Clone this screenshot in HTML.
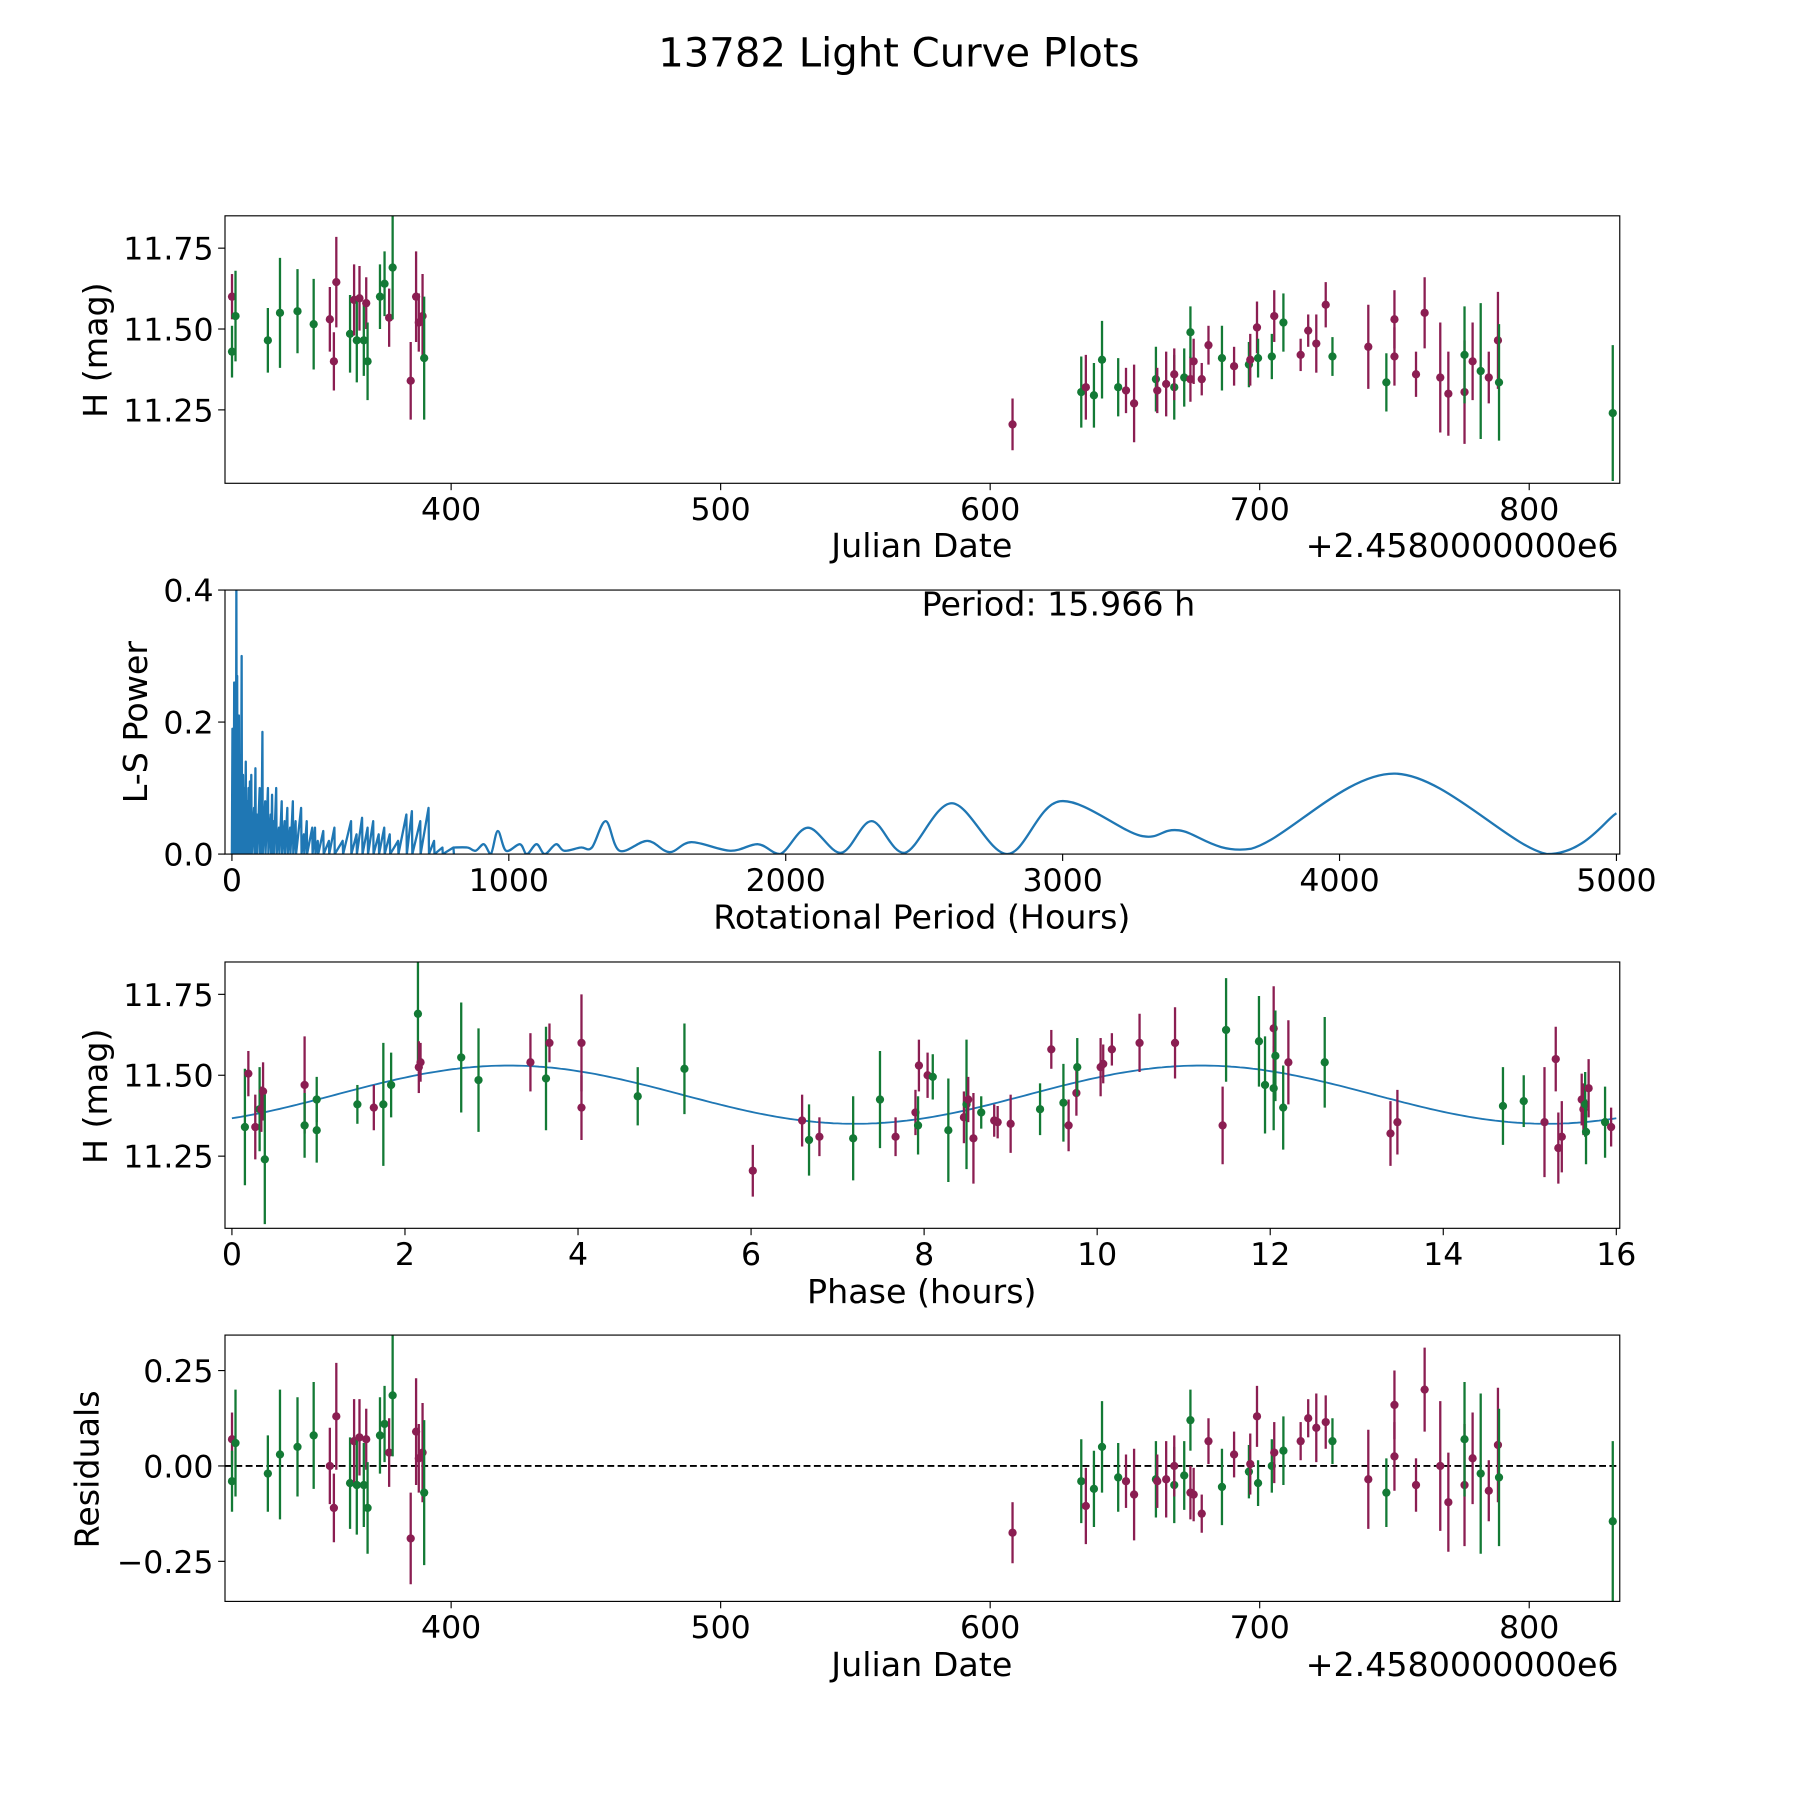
<!DOCTYPE html>
<html><head><meta charset="utf-8"><style>
html,body{margin:0;padding:0;background:#fff;}
svg{display:block;font-family:"DejaVu Sans","Liberation Sans",sans-serif;}
</style></head><body>
<svg id="fig" width="1800" height="1800" viewBox="0 0 1568 1568" xmlns="http://www.w3.org/2000/svg">
<rect width="1568" height="1568" fill="#fff"/>
<text x="783" y="58" font-size="35" text-anchor="middle">13782 Light Curve Plots</text>
</svg>
<script>
// ---- Light curve data (Julian date offset from 2458000) ----
const jd  = [318.7,318.7,320,332,336.5,343,349,355,356.5,357.4,362.5,364,365,366,367.6,368.5,369,373.6,375.3,377,378.3,385,387,388,389.4,390,
 608.3,633.8,635.5,638.5,641.5,647.5,650.4,653.4,661.5,662,665.3,668.3,668.3,672,674.3,674.3,675.5,678.5,681,686,690.5,696,696.5,699,699.4,704.5,705.4,708.8,715.2,718,721,724.5,727,740.3,747,750,750,758,761.2,767,770,776,776,779,782,785,788.4,788.8,831];
const mag = [11.60,11.43,11.54,11.465,11.55,11.555,11.515,11.53,11.40,11.645,11.485,11.59,11.465,11.595,11.465,11.58,11.40,11.60,11.64,11.535,11.69,11.34,11.60,11.52,11.54,11.41,
 11.205,11.305,11.32,11.295,11.405,11.32,11.31,11.27,11.345,11.31,11.33,11.32,11.36,11.35,11.345,11.49,11.40,11.345,11.45,11.41,11.385,11.39,11.405,11.505,11.41,11.415,11.54,11.52,11.42,11.495,11.455,11.575,11.415,11.445,11.335,11.415,11.53,11.36,11.55,11.35,11.30,11.305,11.42,11.40,11.37,11.35,11.465,11.335,11.24];
const res = [0.07,-0.04,0.06,-0.02,0.03,0.05,0.08,0.0,-0.11,0.13,-0.045,0.065,-0.05,0.075,-0.05,0.07,-0.11,0.08,0.11,0.035,0.185,-0.19,0.09,0.02,0.035,-0.07,
 -0.175,-0.04,-0.105,-0.06,0.05,-0.03,-0.04,-0.075,-0.035,-0.04,-0.035,-0.05,0.0,-0.025,-0.07,0.12,-0.075,-0.125,0.065,-0.055,0.03,-0.015,0.005,0.13,-0.045,0.0,0.035,0.04,0.065,0.125,0.1,0.115,0.065,-0.035,-0.07,0.025,0.16,-0.05,0.2,0.0,-0.095,-0.05,0.07,0.02,-0.02,-0.065,0.055,-0.03,-0.145];
const err = [0.07,0.08,0.14,0.1,0.17,0.13,0.14,0.1,0.09,0.14,0.12,0.11,0.13,0.1,0.11,0.08,0.12,0.1,0.1,0.09,0.16,0.12,0.14,0.09,0.13,0.19,
 0.08,0.11,0.1,0.1,0.12,0.09,0.07,0.12,0.1,0.07,0.1,0.1,0.08,0.09,0.07,0.08,0.07,0.05,0.06,0.1,0.06,0.07,0.08,0.08,0.06,0.07,0.08,0.09,0.05,0.05,0.09,0.07,0.06,0.13,0.09,0.09,0.09,0.07,0.11,0.17,0.13,0.16,0.15,0.12,0.21,0.08,0.15,0.18,0.21];
const band = ("mggggggmmmgmgmgmgggmgmmmmg" + "mgmgggmmgmmgmgmgmmmgmgmmggmgmmmmgmgmmmmmmmgmgmmgg").split("");
// ---- Phase-folded data ----
const phase = [0.15,0.19,0.27,0.32,0.34,0.36,0.38,0.84,0.84,0.98,0.98,1.45,1.64,1.75,1.84,2.15,2.16,2.18,2.65,2.85,3.45,3.63,3.67,4.04,4.04,4.69,5.23,6.02,6.59,6.67,6.79,7.18,7.49,7.67,7.9,7.93,7.94,8.04,8.1,8.28,8.46,8.49,8.51,8.57,8.66,8.81,8.85,9.0,9.34,9.47,9.61,9.67,9.76,9.77,10.04,10.07,10.17,10.49,10.9,11.45,11.49,11.87,11.94,12.04,12.04,12.06,12.15,12.21,12.63,13.39,13.47,14.69,14.93,15.17,15.3,15.33,15.37,15.6,15.62,15.64,15.65,15.68,15.87,15.94];
const pmag = [11.34,11.505,11.34,11.395,11.395,11.45,11.24,11.47,11.345,11.425,11.33,11.41,11.40,11.41,11.47,11.69,11.525,11.54,11.555,11.485,11.54,11.49,11.60,11.60,11.40,11.435,11.52,11.205,11.36,11.30,11.31,11.305,11.425,11.31,11.385,11.345,11.53,11.50,11.495,11.33,11.37,11.41,11.425,11.305,11.385,11.36,11.355,11.35,11.395,11.58,11.415,11.345,11.445,11.525,11.525,11.535,11.58,11.60,11.60,11.345,11.64,11.605,11.47,11.46,11.645,11.56,11.40,11.54,11.54,11.32,11.355,11.405,11.42,11.355,11.55,11.275,11.31,11.425,11.395,11.41,11.325,11.46,11.355,11.34];
const perr = [0.18,0.07,0.1,0.13,0.07,0.09,0.2,0.15,0.1,0.07,0.1,0.06,0.07,0.19,0.1,0.16,0.08,0.06,0.17,0.16,0.09,0.16,0.06,0.15,0.1,0.09,0.14,0.08,0.08,0.11,0.06,0.13,0.15,0.06,0.07,0.09,0.08,0.07,0.07,0.16,0.08,0.2,0.07,0.14,0.05,0.05,0.05,0.09,0.08,0.06,0.12,0.08,0.07,0.09,0.09,0.06,0.05,0.09,0.11,0.12,0.16,0.14,0.15,0.13,0.13,0.14,0.13,0.13,0.14,0.1,0.1,0.12,0.08,0.17,0.1,0.11,0.11,0.08,0.08,0.1,0.1,0.09,0.11,0.06];
const pband = ("gmmgmmgmgg"+"ggmgggmmgg"+"mgmmmggmmg"+"mggmmgmmgg"+"mgmmgmmmgm"+"gmmgmmmmmm"+"ggggmggmgm"+"mggmmmmmmg"+"gmgm").split("");
// ---- Sinusoid fit parameters ----
const fitMean = 11.44, fitAmp = 0.09, fitPeriod = 8.0, fitPeak = 3.2;
// ---- Periodogram ----
const spikeP = [2,5,8,10,13,16,19,22,25,28,31,35,40,45,50,55,60,65,70,80,85,90,100,105,110,120,130,140,145,150,160,170,180,190,200,210,220,230,250,260,270,290,300,310,330,350,370,400,430,450,470,490,510,530,550,570,600,630,650,680,710,730,760,800];
const spikeH = [0.19,0.15,0.26,0.21,0.1,0.41,0.27,0.2,0.21,0.15,0.08,0.3,0.12,0.1,0.14,0.08,0.1,0.11,0.12,0.07,0.13,0.06,0.1,0.06,0.185,0.08,0.1,0.06,0.09,0.05,0.1,0.04,0.08,0.05,0.07,0.04,0.08,0.05,0.07,0.03,0.05,0.04,0.04,0.02,0.035,0.02,0.04,0.02,0.05,0.03,0.055,0.04,0.05,0.03,0.04,0.03,0.02,0.06,0.065,0.05,0.07,0.02,0.01,0.01];
const smoothP = [800,850,880,910,935,960,990,1040,1065,1100,1130,1170,1200,1260,1300,1350,1400,1500,1580,1660,1800,1900,1980,2080,2200,2310,2430,2600,2800,2990,3280,3420,3680,4200,4750,5000];
const smoothH = [0.01,0.01,0.005,0.015,0.0,0.035,0.005,0.015,0.0,0.015,0.0,0.015,0.005,0.01,0.01,0.05,0.005,0.02,0.003,0.018,0.005,0.015,0.0,0.04,0.002,0.05,0.002,0.077,0.0,0.08,0.028,0.036,0.008,0.122,0.0,0.062];
const bestPeriod = "15.966";

const SVGNS="http://www.w3.org/2000/svg";
const fig=document.getElementById('fig');
const COL={m:'#8b1e52',g:'#137a35'};
const TK=27.5, LB=29;
function mk(tag,attrs,parent){const e=document.createElementNS(SVGNS,tag);for(const k in attrs)e.setAttribute(k,attrs[k]);(parent||fig).appendChild(e);return e;}
function txt(s,x,y,size,anchor,parent,rot){const t=mk('text',{x:x,y:y,'font-size':size,'text-anchor':anchor||'middle'},parent);if(rot)t.setAttribute('transform','rotate(-90 '+x+' '+y+')');t.textContent=s;return t;}

function panel(id,L,T,R,B,xmin,xmax,ymin,ymax){
  const g=mk('g',{});
  
  
  const cp=mk('clipPath',{id:'cp-'+id},g);mk('rect',{x:L,y:T,width:R-L,height:B-T},cp);
  const sx=v=>L+(v-xmin)/(xmax-xmin)*(R-L), sy=v=>B-(v-ymin)/(ymax-ymin)*(B-T);
  const data=mk('g',{'clip-path':'url(#cp-'+id+')'},g);
  
  
  return {g,data,sx,sy,L,T,R,B};
}
function frame(p,xt,xl,yt,yl,name){
  const ax=mk('g',{},p.g);
  
  
  mk('rect',{x:p.L,y:p.T,width:p.R-p.L,height:p.B-p.T,fill:'none',stroke:'#000','stroke-width':1},ax);
  xt.forEach((v,i)=>{const x=p.sx(v);mk('line',{x1:x,x2:x,y1:p.B,y2:p.B+6,stroke:'#000','stroke-width':1},ax);
    const t=txt(xl[i],x,p.B+32,TK,'middle',ax);});
  yt.forEach((v,i)=>{const y=p.sy(v);mk('line',{x1:p.L-6,x2:p.L,y1:y,y2:y,stroke:'#000','stroke-width':1},ax);
    const t=txt(yl[i],p.L-10,y+10,TK,'end',ax);});
}
function errpts(p,xs,ys,es,bs){
  xs.forEach((v,i)=>{const x=p.sx(v),c=COL[bs[i]]||COL.g;
    const l=mk('line',{x1:x,x2:x,y1:p.sy(ys[i]-es[i]),y2:p.sy(ys[i]+es[i]),stroke:c,'stroke-width':2},p.data);
    
    
    const d=mk('circle',{cx:x,cy:p.sy(ys[i]),r:3.6,fill:c},p.data);
    
    
  });
}
const bandN=jd.map((_,i)=>band[i]||'g');
const pbandN=phase.map((_,i)=>pband[i]||'g');

// Panel 1: light curve
const p1=panel('light-curve',196,188,1411,421,316.1,833.6,11.023,11.85);
errpts(p1,jd,mag,err,bandN);
frame(p1,[400,500,600,700,800],['400','500','600','700','800'],[11.25,11.5,11.75],['11.25','11.50','11.75'],'light-curve');
let t;
t=txt('Julian Date',803,485,LB,'middle',p1.g);
t=txt('+2.4580000000e6',1410,485,LB,'end',p1.g);
t=txt('H (mag)',93,305,LB,'middle',p1.g,true);

// Panel 2: periodogram
const p2=panel('periodogram',196,514,1411,744,-25,5012,0,0.4);
let pts=[[0,0]];
spikeP.forEach((v,i)=>{pts.push([v,spikeH[i]]);pts.push([v+1.5,0.0]);});
let d='M'+pts.map(q=>p2.sx(q[0]).toFixed(1)+','+p2.sy(q[1]).toFixed(1)).join('L');
const sp=smoothP.map((v,i)=>[p2.sx(v),p2.sy(smoothH[i])]);
d+='L'+sp[0][0].toFixed(1)+','+sp[0][1].toFixed(1);
for(let i=0;i<sp.length-1;i++){const a=sp[Math.max(0,i-1)],b=sp[i],c=sp[i+1],e=sp[Math.min(sp.length-1,i+2)];
  const c1=[b[0]+(c[0]-a[0])/6,b[1]+(c[1]-a[1])/6],c2=[c[0]-(e[0]-b[0])/6,c[1]-(e[1]-b[1])/6];
  c1[1]=Math.min(c1[1],p2.B);c2[1]=Math.min(c2[1],p2.B);
  d+='C'+c1[0].toFixed(1)+','+c1[1].toFixed(1)+' '+c2[0].toFixed(1)+','+c2[1].toFixed(1)+' '+c[0].toFixed(1)+','+c[1].toFixed(1);}
const pl=mk('path',{d:d,fill:'none',stroke:'#1f77b4','stroke-width':2,'stroke-linejoin':'round'},p2.data);


frame(p2,[0,1000,2000,3000,4000,5000],['0','1000','2000','3000','4000','5000'],[0,0.2,0.4],['0.0','0.2','0.4'],'periodogram');
t=txt('Period: '+bestPeriod+' h',922,536,LB,'middle',p2.g);
t=txt('Rotational Period (Hours)',803,809,LB,'middle',p2.g);
t=txt('L-S Power',128,629,LB,'middle',p2.g,true);

// Panel 3: phase folded
const p3=panel('phase-fold',196,838,1411,1070,-0.08,16.04,11.027,11.85);
let fd='';for(let k=0;k<=320;k++){const ph=k*16/320;const m=fitMean+fitAmp*Math.cos(2*Math.PI*(ph-fitPeak)/fitPeriod);fd+=(k?'L':'M')+p3.sx(ph).toFixed(1)+','+p3.sy(m).toFixed(1);}
const fl=mk('path',{d:fd,fill:'none',stroke:'#1f77b4','stroke-width':1.6},p3.data);


errpts(p3,phase,pmag,perr,pbandN);
frame(p3,[0,2,4,6,8,10,12,14,16],['0','2','4','6','8','10','12','14','16'],[11.25,11.5,11.75],['11.25','11.50','11.75'],'phase-fold');
t=txt('Phase (hours)',803,1135,LB,'middle',p3.g);
t=txt('H (mag)',93,955,LB,'middle',p3.g,true);

// Panel 4: residuals
const p4=panel('residuals',196,1163,1411,1395,316.1,833.6,-0.355,0.343);
const zl=mk('line',{x1:p4.L,x2:p4.R,y1:p4.sy(0),y2:p4.sy(0),stroke:'#000','stroke-width':1.6,'stroke-dasharray':'6,3'},p4.data);


errpts(p4,jd,res,err,bandN);
frame(p4,[400,500,600,700,800],['400','500','600','700','800'],[-0.25,0,0.25],['\u22120.25','0.00','0.25'],'residuals');
t=txt('Julian Date',803,1460,LB,'middle',p4.g);
t=txt('+2.4580000000e6',1410,1460,LB,'end',p4.g);
t=txt('Residuals',86,1280,LB,'middle',p4.g,true);
</script>
</body></html>
